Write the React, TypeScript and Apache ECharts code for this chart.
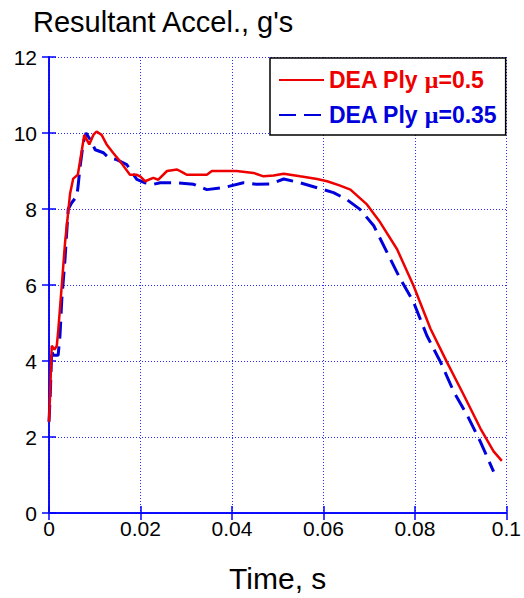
import React, { useEffect, useRef } from "react";
import * as echarts from "echarts";

const redT = [0, 0.0002, 0.0006, 0.0012, 0.0017, 0.002, 0.0028, 0.0035, 0.0046, 0.0053, 0.0063, 0.0072, 0.0077, 0.0088, 0.0097, 0.0104, 0.0115, 0.0126, 0.014, 0.0155, 0.0177, 0.0192, 0.02, 0.021, 0.0228, 0.0239, 0.0258, 0.028, 0.0294, 0.0301, 0.0345, 0.0356, 0.041, 0.0447, 0.0469, 0.0491, 0.0513, 0.0549, 0.0586, 0.0608, 0.0635, 0.0659, 0.0695, 0.0724, 0.0761, 0.0797, 0.0834, 0.087, 0.0907, 0.0943, 0.0972, 0.099];
const redY = [2.4, 3.0, 4.4, 4.3, 4.4, 4.77, 6.0, 7.1, 8.4, 8.8, 8.9, 9.56, 9.95, 9.7, 9.95, 10.04, 9.95, 9.7, 9.48, 9.26, 8.9, 8.9, 8.85, 8.73, 8.82, 8.77, 9.0, 9.04, 8.95, 8.9, 8.9, 9.0, 9.0, 8.95, 8.86, 8.88, 8.93, 8.86, 8.79, 8.73, 8.62, 8.51, 8.12, 7.65, 6.94, 5.98, 4.85, 3.97, 3.1, 2.23, 1.62, 1.37];

const blueT = [0, 0.0003, 0.0006, 0.0009, 0.002, 0.0024, 0.0028, 0.0035, 0.0042, 0.005, 0.0061, 0.0064, 0.0068, 0.0075, 0.0081, 0.009, 0.0101, 0.0119, 0.013, 0.0148, 0.017, 0.0177, 0.0192, 0.021, 0.0228, 0.0243, 0.028, 0.0316, 0.0345, 0.0381, 0.0425, 0.0454, 0.0484, 0.0513, 0.0549, 0.0586, 0.0622, 0.0651, 0.068, 0.071, 0.0739, 0.0768, 0.0797, 0.0826, 0.0856, 0.0885, 0.0914, 0.0943, 0.0972];
const blueY = [2.4, 3.2, 4.3, 4.15, 4.15, 4.67, 5.63, 6.68, 8.0, 8.17, 8.34, 8.65, 9.12, 9.74, 10.0, 9.83, 9.56, 9.48, 9.35, 9.3, 9.17, 9.04, 8.78, 8.69, 8.65, 8.69, 8.69, 8.65, 8.51, 8.56, 8.69, 8.65, 8.66, 8.79, 8.69, 8.56, 8.43, 8.25, 7.99, 7.56, 6.86, 6.16, 5.55, 4.67, 3.97, 3.19, 2.58, 1.88, 1.09];

const xTicks = [0, 0.02, 0.04, 0.06, 0.08, 0.1];
const yTicks = [0, 2, 4, 6, 8, 10, 12];

const seriesNames = ["DEA Ply \u03bc=0.5", "DEA Ply \u03bc=0.35"];
const titleText = "Resultant Accel., g's";
const xName = "Time, s";

const FONT = "'Liberation Sans', Arial, sans-serif";
const RED = "#ee0000";
const BLUE = "#0000dd";
const AXIS_BLUE = "#0000ff";

export default function App() {
  const ref = useRef<HTMLDivElement>(null);
  useEffect(() => {
    if (!ref.current) return;
    const chart = echarts.init(ref.current, undefined, { renderer: "svg" });
    const redData = redT.map((t, i) => [t, redY[i]]);
    const blueData = blueT.map((t, i) => [t, blueY[i]]);
    const xLabel = (v: number) => {
      const s = xTicks.find((t) => Math.abs(t - v) < 1e-9);
      return s === undefined ? "" : String(s);
    };
    const baseX = {
      type: "value" as const,
      min: 0,
      max: 0.1,
      interval: 0.02,
    };
    const baseY = {
      type: "value" as const,
      min: yTicks[0],
      max: yTicks[yTicks.length - 1],
      interval: 2,
    };
    chart.setOption({
      animation: false,
      backgroundColor: "#ffffff",
      title: {
        text: titleText,
        left: 28,
        top: 2,
        textStyle: { fontFamily: FONT, fontSize: 29, fontWeight: "normal", color: "#000" },
      },
      grid: { left: 49, right: 17, top: 57, bottom: 83, containLabel: false },
      legend: {
        data: seriesNames,
        orient: "vertical",
        left: 270,
        top: 58,
        padding: [10, 9, 8, 8],
        itemGap: 11,
        itemWidth: 45,
        itemHeight: 14,
        backgroundColor: "#ffffff",
        borderColor: "#000000",
        borderWidth: 1.5,
        borderRadius: 0,
        itemStyle: { opacity: 0 },
        formatter: (name: string) => {
          const k = name === seriesNames[0] ? "r" : "b";
          const parts = name.split("\u03bc");
          return `{${k}|${parts[0]}}{${k}m|\u03bc}{${k}|${parts[1]}}`;
        },
        textStyle: {
          rich: {
            r: { fontFamily: FONT, fontSize: 23, fontWeight: "bold", color: RED, lineHeight: 23 },
            rm: { fontFamily: "'Liberation Serif', serif", fontSize: 24, fontWeight: "bold", color: RED, lineHeight: 23 },
            b: { fontFamily: FONT, fontSize: 23, fontWeight: "bold", color: BLUE, lineHeight: 23 },
            bm: { fontFamily: "'Liberation Serif', serif", fontSize: 24, fontWeight: "bold", color: BLUE, lineHeight: 23 },
          },
        },
      },
      xAxis: [
        {
          ...baseX,
          position: "bottom",
          name: xName,
          nameLocation: "middle",
          nameGap: 50,
          nameTextStyle: { fontFamily: FONT, fontSize: 30, color: "#000" },
          axisLine: { show: true, lineStyle: { color: AXIS_BLUE, width: 1.5 } },
          axisTick: { show: true, inside: true, length: 7, lineStyle: { color: AXIS_BLUE, width: 1.5 } },
          axisLabel: { fontFamily: FONT, fontSize: 21, color: "#000", margin: 5, formatter: xLabel },
          splitLine: { show: true, lineStyle: { color: "#2a2aff", type: [1, 2], width: 1 } },
        },
        {
          ...baseX,
          position: "top",
          axisLine: { show: true, lineStyle: { color: AXIS_BLUE, width: 1.5 } },
          axisTick: { show: true, inside: true, length: 7, lineStyle: { color: AXIS_BLUE, width: 1.5 } },
          axisLabel: { show: false },
          splitLine: { show: false },
        },
      ],
      yAxis: [
        {
          ...baseY,
          position: "left",
          axisLine: { show: true, lineStyle: { color: AXIS_BLUE, width: 1.5 } },
          axisTick: { show: true, inside: true, length: 7, lineStyle: { color: AXIS_BLUE, width: 1.5 } },
          axisLabel: { fontFamily: FONT, fontSize: 21, color: "#000", margin: 12, padding: [0, 0, 8, 0] },
          splitLine: { show: true, lineStyle: { color: "#2a2aff", type: [1, 2], width: 1 } },
        },
        {
          ...baseY,
          position: "right",
          axisLine: { show: true, lineStyle: { color: AXIS_BLUE, width: 1.5 } },
          axisTick: { show: true, inside: true, length: 7, lineStyle: { color: AXIS_BLUE, width: 1.5 } },
          axisLabel: { show: false },
          splitLine: { show: false },
        },
      ],
      series: [
        {
          name: seriesNames[0],
          type: "line",
          data: redData,
          symbol: "none",
          smooth: false,
          lineStyle: { color: RED, width: 2.5 },
          itemStyle: { color: RED },
          z: 3,
        },
        {
          name: seriesNames[1],
          type: "line",
          data: blueData,
          symbol: "none",
          smooth: false,
          lineStyle: { color: BLUE, width: 3, type: [17, 8] },
          itemStyle: { color: BLUE },
          z: 2,
        },
      ],
    });
    return () => chart.dispose();
  }, []);
  return (
    <div
      ref={ref}
      style={{ position: "fixed", left: 0, top: 0, width: 524, height: 598 }}
    />
  );
}
